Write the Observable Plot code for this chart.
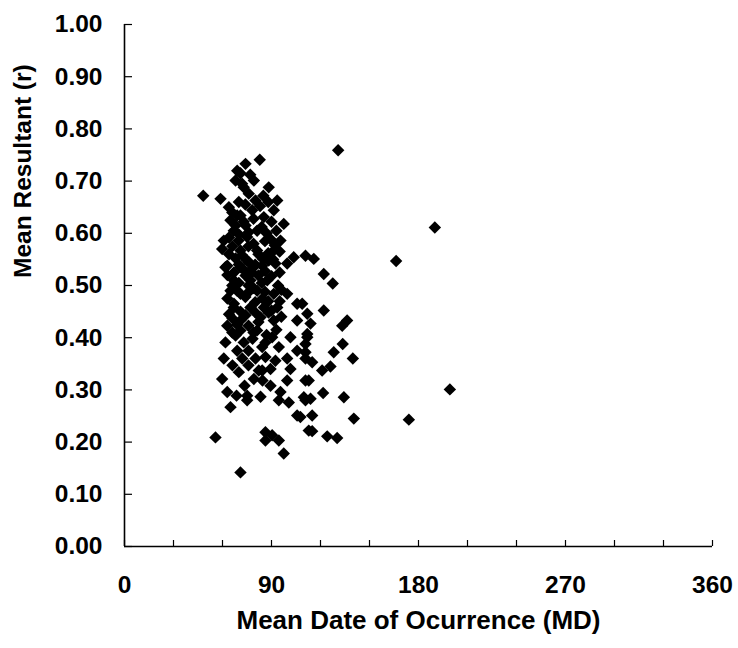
<!DOCTYPE html>
<html>
<head>
<meta charset="utf-8">
<script src="https://cdn.jsdelivr.net/npm/d3@7"></script>
<script src="https://cdn.jsdelivr.net/npm/@observablehq/plot@0.6"></script>
<style>
  html, body { margin: 0; padding: 0; background: #fff; }
  #chart svg { display: block; }
</style>
</head>
<body>
<div id="chart"></div>
<script>
// Mean date of occurrence (days, 0–360) and mean resultant length r
const mdDays = [
  82.8, 74.1, 69.0, 68.0, 79.2, 48.2, 58.8, 88.3, 76.1, 63.9,
  80.2, 93.5, 97.5, 69.0, 78.2, 85.3, 91.4, 66.9, 81.2, 60.8,
  59.8, 75.1, 89.4, 95.5, 71.0, 81.2, 91.4, 103.6, 110.8, 62.9,
  75.1, 88.3, 64.9, 73.0, 71.0,
  61.8, 71.0, 84.3, 92.4, 99.6, 66.9, 77.1, 87.4, 64.9, 71.0,
  81.2, 91.4, 99.6, 105.7, 66.9, 77.1, 85.3, 93.5, 62.9, 71.0,
  83.3, 91.4, 105.7, 111.9, 68.0, 81.2, 90.4, 101.6, 111.9, 73.0,
  61.8, 69.0, 84.3, 94.5, 60.8, 72.1, 86.3, 92.4, 99.6, 105.7,
  110.8, 70.0, 82.2, 89.4, 101.6, 59.8,
  79.2, 84.3, 99.6, 110.8, 62.9, 75.1, 75.1, 83.3, 95.5, 94.5,
  100.6, 110.8, 64.9, 105.7, 112.8, 55.7, 86.3, 90.4, 86.3, 94.5,
  97.5, 71.0,
  130.8, 190.0, 166.3, 115.9, 122.0, 127.5, 108.8, 122.0, 113.9, 136.3,
  133.3, 111.9, 110.8, 110.8, 133.6, 128.1, 139.8, 114.9, 121.0, 126.1,
  112.8, 109.8, 113.9, 121.6, 134.3, 199.2, 114.9, 107.7, 140.4, 174.1,
  114.9, 124.1, 130.2,
  71.0, 74.1, 69.8, 75.9, 68.0, 78.4, 74.1, 82.0, 75.9, 84.5,
  80.2, 74.1, 88.2, 66.1, 75.9, 71.0, 78.4, 86.3, 75.9, 80.2,
  66.1, 75.9, 84.5, 73.5, 89.4, 68.6,
  72, 77, 85, 70, 74, 83, 88, 66, 79, 90,
  73, 84, 68, 87, 76, 93,
  64, 70, 79, 86, 92, 66, 72, 82, 88, 95,
  64, 76, 85, 91, 70, 80, 67, 73, 86, 95,
  63, 78, 90, 70, 76, 84, 94, 66,
  69, 79, 86, 96, 63, 74, 88, 95, 67, 80,
  71, 90, 64, 82, 96, 69, 79, 93, 66, 87
];
const meanR = [
  0.741, 0.733, 0.720, 0.701, 0.701, 0.672, 0.666, 0.688, 0.676, 0.650,
  0.663, 0.663, 0.618, 0.634, 0.644, 0.631, 0.644, 0.605, 0.605, 0.586,
  0.570, 0.593, 0.589, 0.586, 0.567, 0.567, 0.567, 0.554, 0.557, 0.538,
  0.548, 0.548, 0.625, 0.688, 0.715,
  0.535, 0.535, 0.538, 0.542, 0.542, 0.510, 0.510, 0.510, 0.490, 0.484,
  0.490, 0.484, 0.484, 0.465, 0.458, 0.458, 0.458, 0.458, 0.423, 0.433,
  0.439, 0.433, 0.433, 0.446, 0.404, 0.414, 0.401, 0.401, 0.407, 0.391,
  0.391, 0.375, 0.382, 0.382, 0.360, 0.360, 0.363, 0.356, 0.360, 0.375,
  0.360, 0.334, 0.337, 0.340, 0.340, 0.321,
  0.321, 0.337, 0.318, 0.318, 0.296, 0.289, 0.280, 0.287, 0.296, 0.280,
  0.276, 0.280, 0.267, 0.251, 0.222, 0.209, 0.219, 0.213, 0.203, 0.203,
  0.178, 0.142,
  0.759, 0.611, 0.547, 0.551, 0.522, 0.504, 0.465, 0.452, 0.427, 0.433,
  0.423, 0.401, 0.388, 0.372, 0.388, 0.372, 0.360, 0.353, 0.337, 0.345,
  0.318, 0.286, 0.283, 0.294, 0.286, 0.301, 0.251, 0.248, 0.245, 0.243,
  0.221, 0.211, 0.208,
  0.634, 0.615, 0.586, 0.575, 0.552, 0.533, 0.519, 0.519, 0.487, 0.475,
  0.448, 0.443, 0.448, 0.437, 0.423, 0.414, 0.398, 0.391, 0.375, 0.360,
  0.347, 0.347, 0.318, 0.308, 0.308, 0.289,
  0.695, 0.712, 0.672, 0.660, 0.655, 0.652, 0.660, 0.640, 0.628, 0.622,
  0.622, 0.612, 0.615, 0.600, 0.602, 0.605,
  0.592, 0.598, 0.580, 0.585, 0.577, 0.575, 0.558, 0.560, 0.562, 0.565,
  0.560, 0.545, 0.550, 0.550, 0.540, 0.540, 0.525, 0.530, 0.528, 0.525,
  0.520, 0.525, 0.518, 0.505, 0.500, 0.505, 0.500, 0.500,
  0.490, 0.495, 0.488, 0.492, 0.475, 0.478, 0.470, 0.470, 0.465, 0.468,
  0.450, 0.452, 0.445, 0.430, 0.440, 0.425, 0.410, 0.415, 0.410, 0.405
];
const xMinorTicks = [0, 30, 60, 90, 120, 150, 180, 210, 240, 270, 300, 330, 360];
const xLabelTicks = [0, 90, 180, 270, 360];
const yTicks = [0, 0.1, 0.2, 0.3, 0.4, 0.5, 0.6, 0.7, 0.8, 0.9, 1.0];
const xTitle = "Mean Date of Ocurrence (MD)";
const yTitle = "Mean Resultant (r)";

const points = mdDays.map((d, i) => ({md: d, r: meanR[i]}));
const font = "'Liberation Sans', Arial, Helvetica, sans-serif";

const chart = Plot.plot({
  width: 738,
  height: 648,
  marginLeft: 124,
  marginRight: 26,
  marginTop: 24,
  marginBottom: 102,
  style: {fontFamily: font, color: "#000", background: "#fff", overflow: "visible"},
  x: {domain: [0, 360]},
  y: {domain: [0, 1]},
  marks: [
    Plot.axisX(xMinorTicks, {tickSize: -6, tickFormat: () => "", label: null, strokeWidth: 1.2}),
    Plot.axisX(xLabelTicks, {tickSize: 0, tickPadding: 29, fontSize: 24.5, fontWeight: "bold", label: null, fill: "#000"}),
    Plot.axisY(yTicks, {tickSize: -8, tickFormat: () => "", label: null, strokeWidth: 1.2}),
    Plot.axisY(yTicks, {tickSize: 0, tickPadding: 22, tickFormat: d => d.toFixed(2), fontSize: 24.5, fontWeight: "bold", label: null, fill: "#000"}),
    Plot.ruleX([0], {stroke: "#000", strokeWidth: 1.6}),
    Plot.ruleY([0], {stroke: "#000", strokeWidth: 1.6}),
    Plot.dot(points, {x: "md", y: "r", symbol: "diamond2", r: 5.6, fill: "#000", stroke: "none"}),
    Plot.text([yTitle], {frameAnchor: "left", dx: -101, dy: -7.5, rotate: -90, fontSize: 24.5, fontWeight: "bold", fill: "#000", lineAnchor: "middle"}),
    Plot.text([xTitle], {frameAnchor: "bottom", dy: 74, fontSize: 26, fontWeight: "bold", fill: "#000", lineAnchor: "middle"})
  ]
});
document.getElementById("chart").appendChild(chart);
</script>
</body>
</html>
